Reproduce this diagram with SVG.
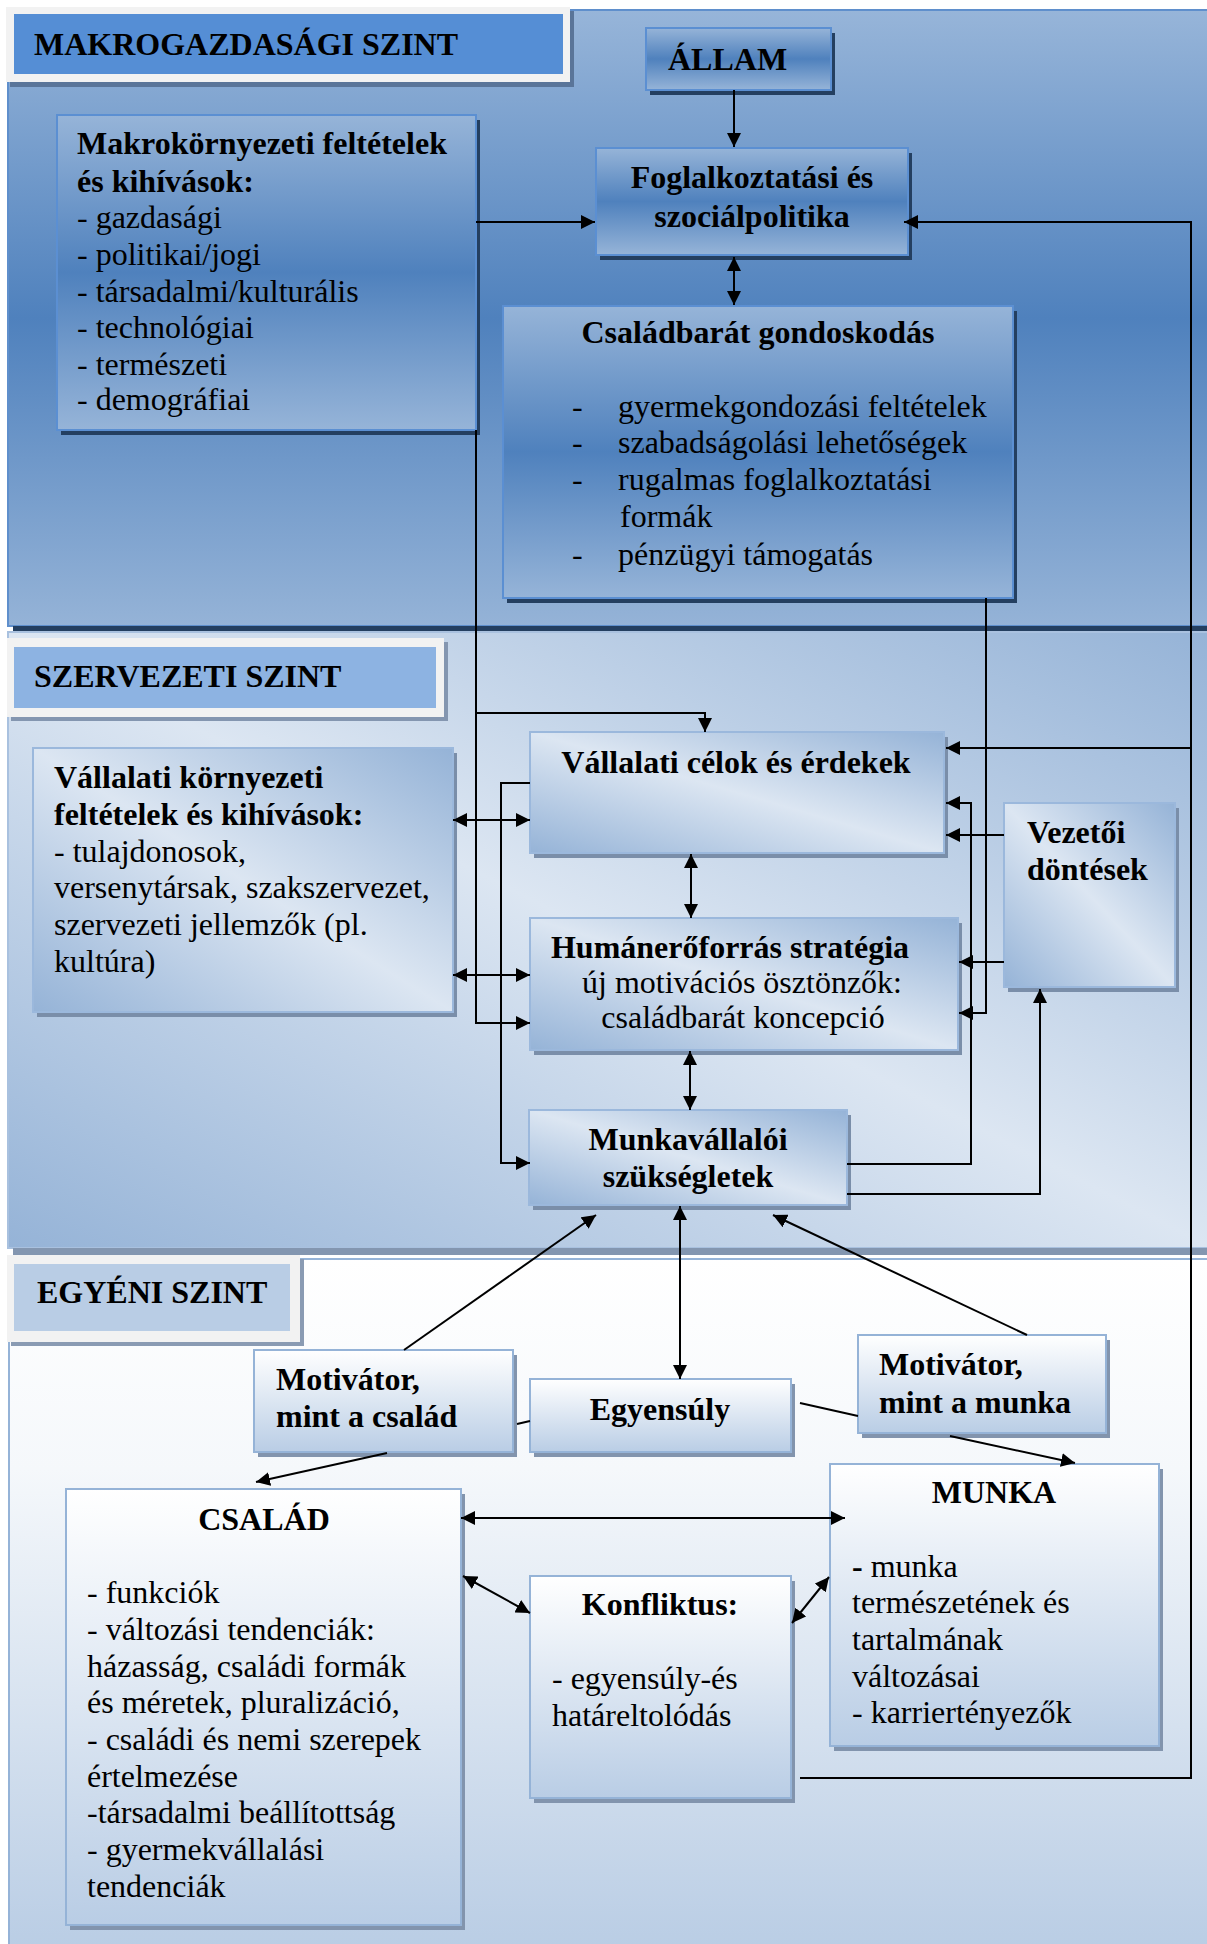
<svg xmlns="http://www.w3.org/2000/svg" width="1207" height="1944" viewBox="0 0 1207 1944">
<defs>
  <linearGradient id="gMacroPanel" x1="0" y1="0" x2="0" y2="1">
    <stop offset="0" stop-color="#97b5d9"/>
    <stop offset="0.5" stop-color="#4f81bd"/>
    <stop offset="1" stop-color="#95b3d7"/>
  </linearGradient>
  <linearGradient id="gMacroBox" x1="0" y1="0" x2="0" y2="1">
    <stop offset="0" stop-color="#96b4d8"/>
    <stop offset="0.5" stop-color="#4f81bd"/>
    <stop offset="1" stop-color="#96b4d8"/>
  </linearGradient>
  <linearGradient id="gOrg" x1="0" y1="1" x2="1" y2="0">
    <stop offset="0" stop-color="#95b3d7"/>
    <stop offset="0.5" stop-color="#dce6f2"/>
    <stop offset="1" stop-color="#95b3d7"/>
  </linearGradient>
  <linearGradient id="gInd" x1="0" y1="0" x2="0" y2="1">
    <stop offset="0" stop-color="#ffffff"/>
    <stop offset="0.3" stop-color="#f5f8fb"/>
    <stop offset="1" stop-color="#b8cce4"/>
  </linearGradient>
  <linearGradient id="gIndBox" x1="0" y1="0" x2="0" y2="1">
    <stop offset="0" stop-color="#ffffff"/>
    <stop offset="1" stop-color="#b9cde5"/>
  </linearGradient>
  <marker id="ah" viewBox="0 0 14 14" refX="14" refY="7" markerWidth="14" markerHeight="14" markerUnits="userSpaceOnUse" orient="auto-start-reverse">
    <path d="M0,0 L14,7 L0,14 z" fill="#000"/>
  </marker>
</defs>
<style>
  .t{font-family:"Liberation Serif","Times New Roman",serif;font-size:32px;fill:#000}
  .b{font-weight:bold}
  .m{text-anchor:middle}
  .mbox{fill:url(#gMacroBox);stroke:#5b8fd2;stroke-width:2}
  .msh{fill:#243f60}
  .obox{fill:url(#gOrg);stroke:#9bb8dc;stroke-width:2}
  .osh{fill:#7a8ea9}
  .ibox{fill:url(#gIndBox);stroke:#95b3d7;stroke-width:2}
  .ish{fill:#8294ad}
  .conn path{fill:none;stroke:#000;stroke-width:2}
  .a{marker-end:url(#ah)}
  .aa{marker-start:url(#ah);marker-end:url(#ah)}
</style>

<rect width="1207" height="1944" fill="#ffffff"/>

<!-- Level panels -->
<g id="panel-macro">
  <rect x="8" y="10" width="1205" height="616" fill="url(#gMacroPanel)" stroke="#5f8fcc" stroke-width="2"/>
  <rect x="13" y="626" width="1200" height="6" fill="#243f60"/>
</g>
<g id="panel-org">
  <rect x="8" y="632" width="1205" height="616" fill="url(#gOrg)" stroke="#a9c1df" stroke-width="2"/>
  <rect x="13" y="1248" width="1200" height="7" fill="#8396b0"/>
</g>
<g id="panel-ind">
  <rect x="9" y="1259" width="1205" height="700" fill="url(#gInd)" stroke="#95b3d7" stroke-width="2"/>
</g>

<!-- Level headers -->
<g id="hdr-macro">
  <rect x="10" y="11" width="564" height="76" fill="#5a7599"/>
  <rect x="6" y="7" width="564" height="75" fill="#f2f2f2"/>
  <rect x="14" y="14" width="549" height="60" fill="#558ed5"/>
  <text class="t b" x="34" y="55">MAKROGAZDASÁGI SZINT</text>
</g>
<g id="hdr-org">
  <rect x="11" y="642" width="437" height="79" fill="#8496b0"/>
  <rect x="7" y="638" width="437" height="79" fill="#f2f2f2"/>
  <rect x="14" y="647" width="422" height="61" fill="#8db3e2"/>
  <text class="t b" x="34" y="687">SZERVEZETI SZINT</text>
</g>
<g id="hdr-ind">
  <rect x="11" y="1259" width="293" height="87" fill="#8a9bb3"/>
  <rect x="7" y="1255" width="293" height="87" fill="#f2f2f2"/>
  <rect x="14" y="1264" width="276" height="67" fill="#b9cde5"/>
  <text class="t b" x="37" y="1303">EGYÉNI SZINT</text>
</g>

<!-- Macro nodes -->
<g id="allam">
  <rect class="msh" x="650" y="33" width="185" height="62"/>
  <rect class="mbox" x="646" y="28" width="185" height="62"/>
  <text class="t b" x="668" y="70">ÁLLAM</text>
</g>
<g id="foglalkoztatasi">
  <rect class="msh" x="600" y="153" width="312" height="107"/>
  <rect class="mbox" x="596" y="148" width="312" height="107"/>
  <text class="t b m" x="752" y="188">Foglalkoztatási és</text>
  <text class="t b m" x="752" y="227">szociálpolitika</text>
</g>
<g id="makrokornyezeti">
  <rect class="msh" x="61" y="120" width="419" height="315"/>
  <rect class="mbox" x="57" y="115" width="419" height="315"/>
  <text class="t b" x="77" y="154">Makrokörnyezeti feltételek</text>
  <text class="t b" x="77" y="192">és kihívások:</text>
  <text class="t" x="77" y="228">- gazdasági</text>
  <text class="t" x="77" y="265">- politikai/jogi</text>
  <text class="t" x="77" y="302">- társadalmi/kulturális</text>
  <text class="t" x="77" y="338">- technológiai</text>
  <text class="t" x="77" y="375">- természeti</text>
  <text class="t" x="77" y="410">- demográfiai</text>
</g>
<g id="csaladbarat">
  <rect class="msh" x="507" y="311" width="510" height="292"/>
  <rect class="mbox" x="503" y="306" width="510" height="292"/>
  <text class="t b m" x="758" y="343">Családbarát gondoskodás</text>
  <text class="t" x="572" y="417">-</text><text class="t" x="618" y="417">gyermekgondozási feltételek</text>
  <text class="t" x="572" y="453">-</text><text class="t" x="618" y="453">szabadságolási lehetőségek</text>
  <text class="t" x="572" y="490">-</text><text class="t" x="618" y="490">rugalmas foglalkoztatási</text>
  <text class="t" x="620" y="527">formák</text>
  <text class="t" x="572" y="565">-</text><text class="t" x="618" y="565">pénzügyi támogatás</text>
</g>

<!-- Organisational nodes -->
<g id="vallalati-kornyezeti">
  <rect class="osh" x="37" y="753" width="420" height="264"/>
  <rect class="obox" x="33" y="748" width="420" height="264"/>
  <text class="t b" x="54" y="788">Vállalati környezeti</text>
  <text class="t b" x="54" y="825">feltételek és kihívások:</text>
  <text class="t" x="54" y="862">- tulajdonosok,</text>
  <text class="t" x="54" y="898">versenytársak, szakszervezet,</text>
  <text class="t" x="54" y="935">szervezeti jellemzők (pl.</text>
  <text class="t" x="54" y="972">kultúra)</text>
</g>
<g id="vallalati-celok">
  <rect class="osh" x="534" y="737" width="414" height="121"/>
  <rect class="obox" x="530" y="732" width="414" height="121"/>
  <text class="t b m" x="736" y="773">Vállalati célok és érdekek</text>
</g>
<g id="human">
  <rect class="osh" x="534" y="923" width="428" height="132"/>
  <rect class="obox" x="530" y="918" width="428" height="132"/>
  <text class="t b m" x="730" y="958">Humánerőforrás stratégia</text>
  <text class="t m" x="742" y="993">új motivációs ösztönzők:</text>
  <text class="t m" x="743" y="1028">családbarát koncepció</text>
</g>
<g id="munkavallaloi">
  <rect class="osh" x="533" y="1115" width="318" height="95"/>
  <rect class="obox" x="529" y="1110" width="318" height="95"/>
  <text class="t b m" x="688" y="1150">Munkavállalói</text>
  <text class="t b m" x="688" y="1187">szükségletek</text>
</g>
<g id="vezetoi">
  <rect class="osh" x="1008" y="808" width="171" height="184"/>
  <rect class="obox" x="1004" y="803" width="171" height="184"/>
  <text class="t b" x="1027" y="843">Vezetői</text>
  <text class="t b" x="1027" y="880">döntések</text>
</g>

<!-- Individual nodes -->
<g id="motivator-csalad">
  <rect class="ish" x="258" y="1355" width="259" height="102"/>
  <rect class="ibox" x="254" y="1350" width="259" height="102"/>
  <text class="t b" x="276" y="1390">Motivátor,</text>
  <text class="t b" x="276" y="1427">mint a család</text>
</g>
<g id="egyensuly">
  <rect class="ish" x="534" y="1384" width="261" height="73"/>
  <rect class="ibox" x="530" y="1379" width="261" height="73"/>
  <text class="t b m" x="660" y="1420">Egyensúly</text>
</g>
<g id="motivator-munka">
  <rect class="ish" x="862" y="1340" width="248" height="98"/>
  <rect class="ibox" x="858" y="1335" width="248" height="98"/>
  <text class="t b" x="879" y="1375">Motivátor,</text>
  <text class="t b" x="879" y="1413">mint a munka</text>
</g>
<g id="csalad">
  <rect class="ish" x="70" y="1494" width="395" height="436"/>
  <rect class="ibox" x="66" y="1489" width="395" height="436"/>
  <text class="t b m" x="264" y="1530">CSALÁD</text>
  <text class="t" x="87" y="1603">- funkciók</text>
  <text class="t" x="87" y="1640">- változási tendenciák:</text>
  <text class="t" x="87" y="1677">házasság, családi formák</text>
  <text class="t" x="87" y="1713">és méretek, pluralizáció,</text>
  <text class="t" x="87" y="1750">- családi és nemi szerepek</text>
  <text class="t" x="87" y="1787">értelmezése</text>
  <text class="t" x="87" y="1823">-társadalmi beállítottság</text>
  <text class="t" x="87" y="1860">- gyermekvállalási</text>
  <text class="t" x="87" y="1897">tendenciák</text>
</g>
<g id="konfliktus">
  <rect class="ish" x="534" y="1581" width="261" height="222"/>
  <rect class="ibox" x="530" y="1576" width="261" height="222"/>
  <text class="t b m" x="660" y="1615">Konfliktus:</text>
  <text class="t" x="552" y="1689">- egyensúly-és</text>
  <text class="t" x="552" y="1726">határeltolódás</text>
</g>
<g id="munka">
  <rect class="ish" x="834" y="1469" width="329" height="282"/>
  <rect class="ibox" x="830" y="1464" width="329" height="282"/>
  <text class="t b m" x="994" y="1503">MUNKA</text>
  <text class="t" x="852" y="1577"><tspan class="b">-</tspan> munka</text>
  <text class="t" x="852" y="1613">természetének és</text>
  <text class="t" x="852" y="1650">tartalmának</text>
  <text class="t" x="852" y="1687">változásai</text>
  <text class="t" x="852" y="1723">- karriertényezők</text>
</g>

<!-- Connectors -->
<g class="conn" id="connectors">
  <path class="a" d="M734,90 V147"/>
  <path class="a" d="M476,222 H595"/>
  <path class="aa" d="M734,257 V305"/>
  <path class="a" d="M800,1778 H1191 V222 H904"/>
  <path class="a" d="M1191,748 H946"/>
  <path class="a" d="M476,430 V1023 H530"/>
  <path class="a" d="M476,713 H705 V732"/>
  <path class="aa" d="M453,820 H530"/>
  <path class="aa" d="M453,975 H530"/>
  <path class="a" d="M530,783 H501 V1163 H530"/>
  <path class="aa" d="M691,854 V918"/>
  <path class="aa" d="M690,1051 V1110"/>
  <path class="a" d="M847,1164 H971 V803 H946"/>
  <path class="a" d="M1004,835 H946"/>
  <path class="a" d="M986,598 V1013 H959"/>
  <path class="a" d="M1004,962 H959"/>
  <path class="a" d="M847,1194 H1040 V989"/>
  <path class="a" d="M404,1350 L596,1215"/>
  <path class="aa" d="M680,1206 V1379"/>
  <path class="a" d="M1027,1335 L773,1215"/>
  <path class="a" d="M530,1421 L517,1424 M387,1453 L256,1482"/>
  <path class="a" d="M800,1403 L858,1416 M950,1436 L1075,1463"/>
  <path class="aa" d="M461,1518 H845"/>
  <path class="aa" d="M463,1576 L530,1613"/>
  <path class="aa" d="M792,1623 L829,1577"/>
</g>
</svg>
